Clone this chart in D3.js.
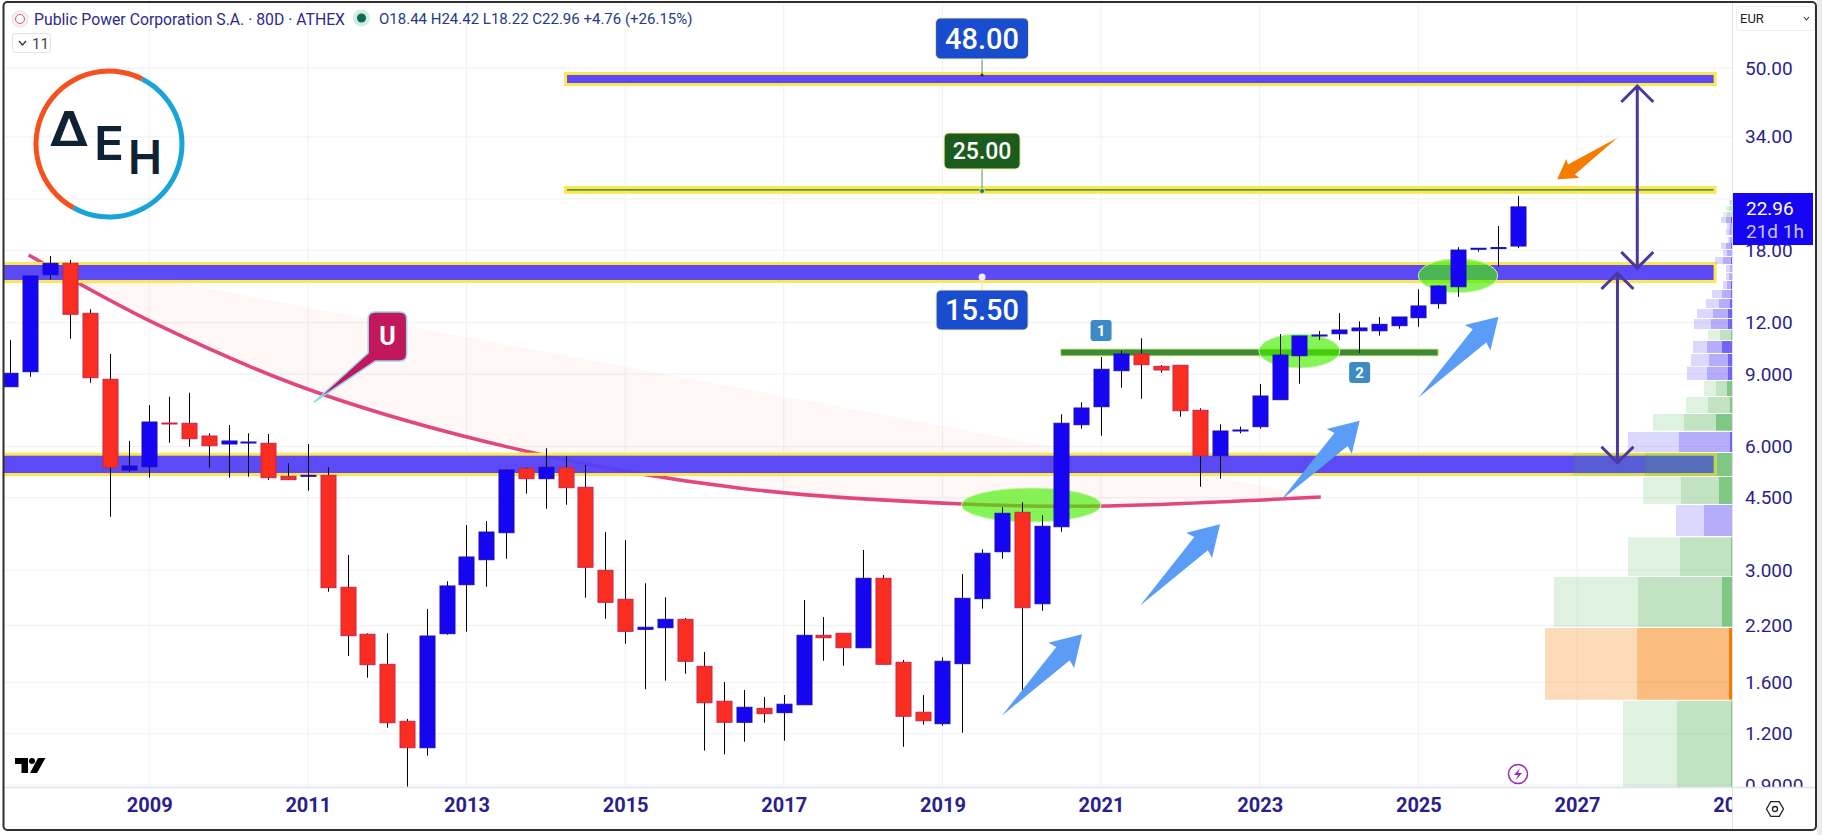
<!DOCTYPE html>
<html lang="en">
<head>
<meta charset="utf-8">
<title>Public Power Corporation S.A. 80D ATHEX</title>
<script src="https://cdn.jsdelivr.net/npm/d3@7"></script>
<style>
html,body{margin:0;padding:0;background:#fff;overflow:hidden}
svg{display:block;font-family:Roboto,sans-serif}
</style>
</head>
<body>
<script>
var width = 1822, height = 835

// candles, 4 bars a year, first bar 2007.25
var firstYear = 2007.25
var opens = [8.384,9.119,15.7,16.74,12.65,8.739,5.257,5.355,6.841,6.83,6.36,6.082,6.116,6.106,5.075,5.083,5.103,2.725,2.094,1.77,1.286,1.109,2.101,2.765,3.18,3.7,5.308,5.007,5.325,4.772,2.997,2.548,2.153,2.173,2.277,1.75,1.439,1.279,1.383,1.35,1.411,2.082,2.106,1.942,2.866,1.79,1.353,1.269,1.776,2.556,3.326,4.148,2.485,3.826,6.776,7.495,9.17,10.07,9.399,9.452,7.346,5.696,6.541,6.701,7.795,9.974,11.14,11.28,11.47,11.47,11.8,12.34,13.35,14.68,18.11,18.24,18.44]
var highs = [10.89,15.59,17.44,17.05,12.94,10.07,6.185,7.567,7.927,8.107,6.457,6.765,6.457,6.432,5.458,6.082,5.337,3.265,2.106,2.106,1.303,2.413,2.818,3.863,3.951,5.278,5.337,5.937,5.686,5.407,3.714,3.552,2.786,2.576,2.294,1.896,1.603,1.533,1.474,1.49,2.538,2.307,2.106,3.358,2.919,1.813,1.49,1.841,2.936,3.371,4.266,4.387,4.079,7.183,7.682,9.902,10.24,11,9.468,9.452,7.428,6.791,6.701,8.512,11.26,11.14,11.45,12.67,12.09,12.39,12.39,14.47,14.8,18.31,18.21,20.63,24.42]
var lows = [8.37,8.867,15.3,10.97,8.574,4.047,5.207,5.035,6.126,5.99,5.325,5.035,5.064,4.971,4.971,4.681,2.658,1.854,1.642,1.241,0.8915,1.061,2.089,2.125,2.734,3.198,4.603,4.232,4.328,2.57,2.285,1.986,1.539,1.615,1.679,1.091,1.069,1.147,1.276,1.154,1.411,1.806,1.756,1.942,1.77,1.115,1.262,1.255,1.206,2.417,3.198,1.46,2.39,3.721,6.626,6.371,8.337,7.839,9.068,7.087,4.788,5.007,6.457,6.626,7.795,8.526,10.89,10.89,10.14,11.16,11.6,11.73,12.98,13.88,17.86,16.42,18.22]
var closes = [9.038,15.59,16.74,12.58,8.818,5.325,5.376,6.879,6.803,6.265,6.024,6.185,6.15,5.035,4.979,5.103,2.719,2.078,1.766,1.276,1.109,2.074,2.745,3.229,3.714,5.257,5.007,5.337,4.761,3.048,2.505,2.129,2.178,2.277,1.8,1.427,1.279,1.391,1.342,1.415,2.082,2.054,1.942,2.866,1.77,1.323,1.29,1.8,2.562,3.297,4.125,2.43,3.835,6.83,7.441,9.243,10.07,9.484,9.206,7.329,5.696,6.541,6.578,7.958,10.01,11.14,11.2,11.52,11.65,11.89,12.39,13.18,14.74,18.03,18.21,18.28,22.96]

var priceTicks = [50,34,24,18,12,9,6,4.5,3,2.2,1.6,1.2,0.9]
var priceLabels = ["50.00","34.00","24.00","18.00","12.00","9.000","6.000","4.500","3.000","2.200","1.600","1.200","0.9000"]
var yearTicks = [2009,2011,2013,2015,2017,2019,2021,2023,2025,2027,2029]

// drawn zones
var zoneTop = [48.89,25.81,16.86,5.792]
var zoneBottom = [45.2,24.72,14.99,5.083]
var zoneStart = [2014.23,2014.23,2007,2007]
var zoneEnd = [2028.76,2028.76,2028.76,2028.76]
var zoneLabels = ["48.00","25.00","15.50"]
var labelPrices = [48.08,25.1,15.5]
var labelYear = 2019.5

// neckline 1-2
var neckTop = 10.36, neckBottom = 9.958, neckStart = 2020.49, neckEnd = 2025.25
var markerYears = [2021,2024.26], markerPrices = [11.49,9.08], markerText = ["1","2"]

// U arc
var arcYears = [2007.48,2009.11,2011.10,2013.85,2016.43,2019.25,2021,2023.77]
var arcPrices = [17.54,11.85,8.139,5.783,4.753,4.345,4.297,4.519]

// green highlights
var ellYears = [2020.12,2023.5,2025.5]
var ellPrices = [4.321,10.24,15.62]
var ellRightYears = [2021,2024.01,2026]
var ellTopPrices = [4.753,11.26,17.18]

// arrows
var arrowFromYears = [2019.75,2021.49,2023.27,2025]
var arrowFromPrices = [1.327,2.458,4.444,7.883]
var arrowToYears = [2020.76,2022.5,2024.26,2026.01]
var arrowToPrices = [2.094,3.878,6.93,12.41]
var orangeFrom = [2027.51,33.83], orangeTo = [2026.75,26.8]
var rangeYears = [2027.76,2027.51]
var rangeTops = [45.2,15.85]
var rangeBottoms = [16.3,5.477]

// volume profile rows
var vpHigh = [1.443,2.169,2.887,3.606,4.321,5.055,5.783,6.505,7.195,7.914,8.656,9.378,10.07,10.83,11.52,12.25,12.96,13.7,14.41,15.16,15.85,16.58,17.34,18.03,18.76,19.4,20.29,20.98,21.7,22.31,23.08,23.87]
var vpLow = [0.89,1.451,2.185,2.903,3.632,4.345,5.083,5.815,6.552,7.235,7.958,8.705,9.415,10.13,10.89,11.58,12.32,13.03,13.78,14.49,15.24,15.94,16.67,17.44,18.14,18.76,19.62,20.29,20.98,21.7,22.44,23.21]
var vpTotal = [109,187,178,104,56,89,159,104,79,46,28,45,41,39,24,38,35,26,20,9,6,6,17,9,11,4,6,5,11,9,6,3]
var vpValue = [55,95,94,52,28,51,87,53,48,24,16,25,23,25,12,21,19,13,10,5,3,2,9,5,6,2,3,2,6,5,3,2]
var vpDelta = [1,3,10,1,0,13,15,2,16,2,5,4,4,10,1,4,4,2,1,1,0,0,1,0,1,0,0,0,1,0,0,0]
var vpKind = "goggpggpgggpppgppppppppppppppggg"

var plotLeft = 4, plotRight = 1732, plotBottom = 787

var x = d3.scaleLinear().domain([2009,2027]).range([149.2,1577])
var y = d3.scaleLog().domain([50,0.9]).range([68,785])
var vol = d3.scaleLinear().domain([0,187]).range([plotRight,1545])

var svg = d3.select("body").append("svg").attr("width",width).attr("height",height)

var defs = svg.append("defs")
defs.append("clipPath").attr("id","plot").append("rect").attr("x",plotLeft).attr("y",2).attr("width",plotRight-plotLeft).attr("height",plotBottom-2)
defs.append("clipPath").attr("id","priceAxis").append("rect").attr("x",plotRight).attr("y",2).attr("width",84).attr("height",plotBottom-2)
defs.append("clipPath").attr("id","timeAxis").append("rect").attr("x",plotLeft).attr("y",plotBottom).attr("width",plotRight-plotLeft).attr("height",44)

svg.append("rect").attr("x",1817).attr("y",0).attr("width",5).attr("height",height).attr("fill","#ececec")

var plot = svg.append("g").attr("clip-path","url(#plot)")

// grid
plot.selectAll(".hgrid").data(priceTicks).enter().append("line")
	.attr("x1",plotLeft).attr("x2",plotRight)
	.attr("y1",function(d){return y(d)}).attr("y2",function(d){return y(d)})
	.attr("stroke","#f0f1f5")
plot.selectAll(".vgrid").data(yearTicks).enter().append("line")
	.attr("x1",function(d){return x(d)}).attr("x2",function(d){return x(d)})
	.attr("y1",2).attr("y2",plotBottom)
	.attr("stroke","#f0f1f5")

// U arc, closed so the fill runs along the chord
var arcPoints = arcYears.map(function(d,i){return [d,arcPrices[i]]})
var arcLine = d3.line().x(function(d){return x(d[0])}).y(function(d){return y(d[1])}).curve(d3.curveCatmullRom)
plot.append("path").attr("d",arcLine(arcPoints)+"Z").attr("fill","rgba(240,60,30,0.045)").attr("stroke","none")
plot.append("path").attr("d",arcLine(arcPoints)).attr("fill","none").attr("stroke","#e2467f").attr("stroke-width",3.5)

// zones
var zoneFill = ["#5240f6","#4f8a45","#5240f6","#5240f6"]
zoneTop.forEach(function(d,i){
	plot.append("rect")
		.attr("x",x(zoneStart[i])+1.5).attr("y",y(d)+1.5)
		.attr("width",x(zoneEnd[i])-x(zoneStart[i])-3).attr("height",y(zoneBottom[i])-y(d)-3)
		.attr("fill",zoneFill[i]).attr("fill-opacity",0.95)
		.attr("stroke","#fde64f").attr("stroke-width",3)
})

// neckline
plot.append("rect")
	.attr("x",x(neckStart)).attr("y",y(neckTop))
	.attr("width",x(neckEnd)-x(neckStart)).attr("height",y(neckBottom)-y(neckTop))
	.attr("fill","#3c8a3a").attr("stroke","#e9f28a").attr("stroke-width",1)

// highlights
plot.selectAll(".ell").data(ellYears).enter().append("ellipse")
	.attr("cx",function(d){return x(d)})
	.attr("cy",function(d,i){return y(ellPrices[i])})
	.attr("rx",function(d,i){return x(ellRightYears[i])-x(d)})
	.attr("ry",function(d,i){return y(ellPrices[i])-y(ellTopPrices[i])})
	.attr("fill","#46ee00").attr("fill-opacity",0.66)
	.attr("stroke","#c8f5b0").attr("stroke-width",1)

// candles
function barYear(i){return firstYear+i/4}
var candles = plot.selectAll(".candle").data(opens).enter().append("g")
candles.append("line")
	.attr("x1",function(d,i){return Math.round(x(barYear(i)))+0.5})
	.attr("x2",function(d,i){return Math.round(x(barYear(i)))+0.5})
	.attr("y1",function(d,i){return y(highs[i])})
	.attr("y2",function(d,i){return y(lows[i])})
	.attr("stroke","#000").attr("stroke-width",1)
candles.append("rect")
	.attr("x",function(d,i){return Math.round(x(barYear(i)))-7})
	.attr("y",function(d,i){return Math.min(y(d),y(closes[i]))})
	.attr("width",15)
	.attr("height",function(d,i){return Math.max(1,Math.abs(y(d)-y(closes[i])))})
	.attr("fill",function(d,i){return closes[i]>=d?"#1605f2":"#f92d20"})
	.attr("stroke",function(d,i){return closes[i]>=d?"#1a0fb8":"#c9254f"})
	.attr("stroke-width",1)

// volume profile
var vpColors = {g:"76,175,80",p:"90,72,245",o:"245,124,0"}
vpHigh.forEach(function(d,i){
	var c = vpColors[vpKind[i]], top = y(d), h = y(vpLow[i])-top
	plot.append("rect").attr("x",vol(vpTotal[i])).attr("y",top).attr("width",vol(vpValue[i])-vol(vpTotal[i])).attr("height",h)
		.attr("fill","rgba("+c+","+(vpKind[i]=="o"?0.28:vpKind[i]=="p"?0.22:0.18)+")")
	plot.append("rect").attr("x",vol(vpValue[i])).attr("y",top).attr("width",vol(vpDelta[i])-vol(vpValue[i])).attr("height",h)
		.attr("fill","rgba("+c+","+(vpKind[i]=="o"?0.5:vpKind[i]=="p"?0.45:0.35)+")")
	plot.append("rect").attr("x",vol(vpDelta[i])).attr("y",top).attr("width",vol(0)-vol(vpDelta[i])).attr("height",h)
		.attr("fill","rgba("+c+","+(vpKind[i]=="o"?1:vpKind[i]=="p"?0.85:0.7)+")")
})

// blue arrows
function arrowPath(x0,y0,x1,y1){
	var dx = x1-x0, dy = y1-y0, len = Math.sqrt(dx*dx+dy*dy), ux = dx/len, uy = dy/len, nx = -uy, ny = ux
	function at(back,side){return [x1-ux*len*back+nx*len*side, y1-uy*len*back+ny*len*side]}
	return d3.line()([[x0,y0],at(0.237,-0.083),at(0.26,-0.158),[x1,y1],at(0.26,0.158),at(0.237,0.083)])+"Z"
}
arrowFromYears.forEach(function(d,i){
	plot.append("path")
		.attr("d",arrowPath(x(d),y(arrowFromPrices[i]),x(arrowToYears[i]),y(arrowToPrices[i])))
		.attr("fill","#5b9cf6")
})
plot.append("path")
	.attr("d",arrowPath(x(orangeFrom[0]),y(orangeFrom[1]),x(orangeTo[0]),y(orangeTo[1])))
	.attr("fill","#f57c00")

// range arrows
rangeYears.forEach(function(d,i){
	var xx = x(d), t = y(rangeTops[i]), b = y(rangeBottoms[i])
	plot.append("path")
		.attr("d","M"+xx+","+t+"V"+b+"M"+(xx-16)+","+(t+16)+"L"+xx+","+t+"L"+(xx+16)+","+(t+16)+"M"+(xx-16)+","+(b-16)+"L"+xx+","+b+"L"+(xx+16)+","+(b-16))
		.attr("fill","none").attr("stroke","#4c389e").attr("stroke-width",3)
})

// price labels on the zones
var boxFill = ["#1a4ccf","#1b5c1e","#1a4ccf"]
var boxW = [93,76,92], boxH = [41,36,40], boxGap = [-16,-22,13], fontS = [29,23,29]
zoneLabels.forEach(function(d,i){
	var cx = x(labelYear), py = y(labelPrices[i])
	var top = boxGap[i]<0 ? py+boxGap[i]-boxH[i] : py+boxGap[i]
	plot.append("line").attr("x1",cx).attr("x2",cx).attr("y1",py).attr("y2",py+boxGap[i])
		.attr("stroke",i==2?"#f3e9a0":"#8ab88a").attr("stroke-width",1.5)
	plot.append("circle").attr("cx",cx).attr("cy",py).attr("r",i==2?3.5:i==1?2.5:1.5)
		.attr("fill",i==2?"#eeeaff":i==1?"#2d7a3d":"#333").attr("stroke",i==1?"#cfe8cf":"none")
	plot.append("rect").attr("x",cx-boxW[i]/2).attr("y",top).attr("width",boxW[i]).attr("height",boxH[i]).attr("rx",5)
		.attr("fill",boxFill[i]).attr("stroke","#f4ee9a").attr("stroke-width",1)
	plot.append("text").attr("x",cx).attr("y",top+boxH[i]/2).attr("dy","0.36em")
		.attr("text-anchor","middle").attr("fill","#fff").attr("font-size",fontS[i]).attr("font-weight",500)
		.text(d)
})

// numbered markers
markerText.forEach(function(d,i){
	var mx = x(markerYears[i]), my = y(markerPrices[i])
	plot.append("rect").attr("x",mx-10.5).attr("y",my-10.5).attr("width",21).attr("height",21).attr("rx",3).attr("fill","#3d8bc4")
	plot.append("text").attr("x",mx).attr("y",my).attr("dy","0.36em").attr("text-anchor","middle")
		.attr("fill","#fff").attr("font-size",15).attr("font-weight",700).text(d)
})

// U pin
var pinX = x(2011.08), pinY = y(7.695)
var pl = pinX+54, pt = pinY-90, pw = 38.5, ph = 49, pr = 7
plot.append("path")
	.attr("d","M"+pinX+","+pinY+"L"+pl+","+(pt+41)+"V"+(pt+pr)+"Q"+pl+","+pt+" "+(pl+pr)+","+pt+"H"+(pl+pw-pr)+"Q"+(pl+pw)+","+pt+" "+(pl+pw)+","+(pt+pr)
		+"V"+(pt+ph-pr)+"Q"+(pl+pw)+","+(pt+ph)+" "+(pl+pw-pr)+","+(pt+ph)+"H"+(pl+7)+"Z")
	.attr("fill","#c2185b").attr("stroke","#8fd8f0").attr("stroke-width",1.5).attr("stroke-linejoin","round")
plot.append("text").attr("x",pl+pw/2).attr("y",pt+ph/2-1).attr("dy","0.36em").attr("text-anchor","middle")
	.attr("fill","#fff").attr("font-size",25).attr("font-weight",700).text("U")

// logo
var logoX = 109, logoY = 144, logoR = 73
var logoArc = d3.arc().innerRadius(logoR-2.5).outerRadius(logoR+2.5)
svg.append("path").attr("transform","translate("+logoX+","+logoY+")")
	.attr("d",logoArc({startAngle:0.47,endAngle:3.65})).attr("fill","#18a3d9")
svg.append("path").attr("transform","translate("+logoX+","+logoY+")")
	.attr("d",logoArc({startAngle:3.65,endAngle:Math.PI*2+0.47})).attr("fill","#f4511e")
var logoText = [["Δ",49,146,48,40],["Ε",94,160,47,30],["Η",128,174,47,34]]
logoText.forEach(function(d){
	svg.append("text").attr("x",d[1]).attr("y",d[2])
		.attr("font-family","Inter,sans-serif").attr("font-weight",600).attr("font-size",d[3])
		.attr("textLength",d[4]).attr("lengthAdjust","spacingAndGlyphs")
		.attr("fill","#0e2233").text(d[0])
})

// TV mark
svg.append("path").attr("d","M15,758H28V773H21.5V764H15ZM38,758H45.5L37,773H30Z").attr("fill","#000")
svg.append("circle").attr("cx",32).attr("cy",761).attr("r",3).attr("fill","#000")

// lightning
svg.append("circle").attr("cx",1518).attr("cy",774).attr("r",9.5).attr("fill","#fff").attr("stroke","#9c27b0").attr("stroke-width",1.5)
svg.append("path").attr("d","M1520,768L1514,775H1518L1516,780L1522,773H1518Z").attr("fill","#9c27b0")

// axes
var yAxis = d3.axisRight(y).tickValues(priceTicks).tickSize(0).tickPadding(13)
	.tickFormat(function(d,i){return priceLabels[i]})
var yg = svg.append("g").attr("clip-path","url(#priceAxis)").append("g").attr("transform","translate("+plotRight+",0)").call(yAxis)
yg.select(".domain").remove()
yg.selectAll("text").attr("font-size",19).attr("font-family","Roboto,sans-serif").attr("fill","#2a1f8c")

var xAxis = d3.axisBottom(x).tickValues(yearTicks).tickSize(0).tickPadding(11).tickFormat(d3.format("d"))
var xg = svg.append("g").attr("clip-path","url(#timeAxis)").append("g").attr("transform","translate(0,"+plotBottom+")").call(xAxis)
xg.select(".domain").remove()
xg.selectAll("text").attr("font-size",20).attr("font-weight",700).attr("font-family","Roboto,sans-serif").attr("fill","#2a1f8c")

svg.append("line").attr("x1",plotLeft).attr("x2",1816).attr("y1",plotBottom+0.5).attr("y2",plotBottom+0.5).attr("stroke","#dfe2ea").attr("stroke-width",1.5)
svg.append("line").attr("x1",plotRight+0.5).attr("x2",plotRight+0.5).attr("y1",2).attr("y2",830).attr("stroke","#dfe2ea")

// last price tag
svg.append("rect").attr("x",1733).attr("y",193).attr("width",80).attr("height",52).attr("fill","#1605f2")
svg.append("text").attr("x",1746).attr("y",215).attr("fill","#fff").attr("font-size",19).text("22.96")
svg.append("text").attr("x",1746).attr("y",238).attr("fill","#c9c5fb").attr("font-size",19).text("21d 1h")

// settings
var hex = d3.range(6).map(function(i){var a = i*Math.PI/3;return [1775+8.5*Math.cos(a),809+8.5*Math.sin(a)]})
svg.append("path").attr("d",d3.line()(hex)+"Z").attr("fill","none").attr("stroke","#222").attr("stroke-width",1.3)
svg.append("circle").attr("cx",1775).attr("cy",809).attr("r",2.5).attr("fill","none").attr("stroke","#222").attr("stroke-width",1.3)

// header
svg.append("circle").attr("cx",20).attr("cy",19).attr("r",8).attr("fill","#f6f0f4").attr("stroke","#e8dfe8")
svg.append("circle").attr("cx",20).attr("cy",19).attr("r",4.5).attr("fill","#fff").attr("stroke","#c9606a")
svg.append("text").attr("x",34).attr("y",24.5).attr("font-size",17).attr("fill","#2e2a8c")
	.attr("textLength",311).attr("lengthAdjust","spacingAndGlyphs")
	.text("Public Power Corporation S.A. · 80D · ATHEX")
svg.append("circle").attr("cx",361.5).attr("cy",18).attr("r",8.5).attr("fill","#d3ebe4")
svg.append("circle").attr("cx",361.5).attr("cy",18).attr("r",4.5).attr("fill","#0a6b58")
svg.append("text").attr("x",379).attr("y",24).attr("font-size",15).attr("fill","#23398c")
	.text("O18.44 H24.42 L18.22 C22.96 +4.76 (+26.15%)")

// indicators button
svg.append("rect").attr("x",12.5).attr("y",33.5).attr("width",38).attr("height",19).attr("rx",3).attr("fill","#fff").attr("stroke","#dfe2ea")
svg.append("path").attr("d","M19,41L22.5,45L26,41").attr("fill","none").attr("stroke","#333").attr("stroke-width",1.3)
svg.append("text").attr("x",32).attr("y",48.5).attr("font-size",15).attr("fill","#444").text("11")

// currency button
svg.append("rect").attr("x",1736.5).attr("y",6.5).attr("width",78).attr("height",24).attr("rx",3).attr("fill","#fff").attr("stroke","#eceef3")
svg.append("text").attr("x",1740).attr("y",23).attr("font-size",13).attr("fill","#222").text("EUR")
svg.append("path").attr("d","M1804,17L1806.5,20L1809,17").attr("fill","none").attr("stroke","#333").attr("stroke-width",1.1)

// frame
svg.append("rect").attr("x",3.5).attr("y",2).attr("width",1812.5).attr("height",828).attr("rx",4)
	.attr("fill","none").attr("stroke","#2f2f2f").attr("stroke-width",2)
</script>
</body>
</html>
